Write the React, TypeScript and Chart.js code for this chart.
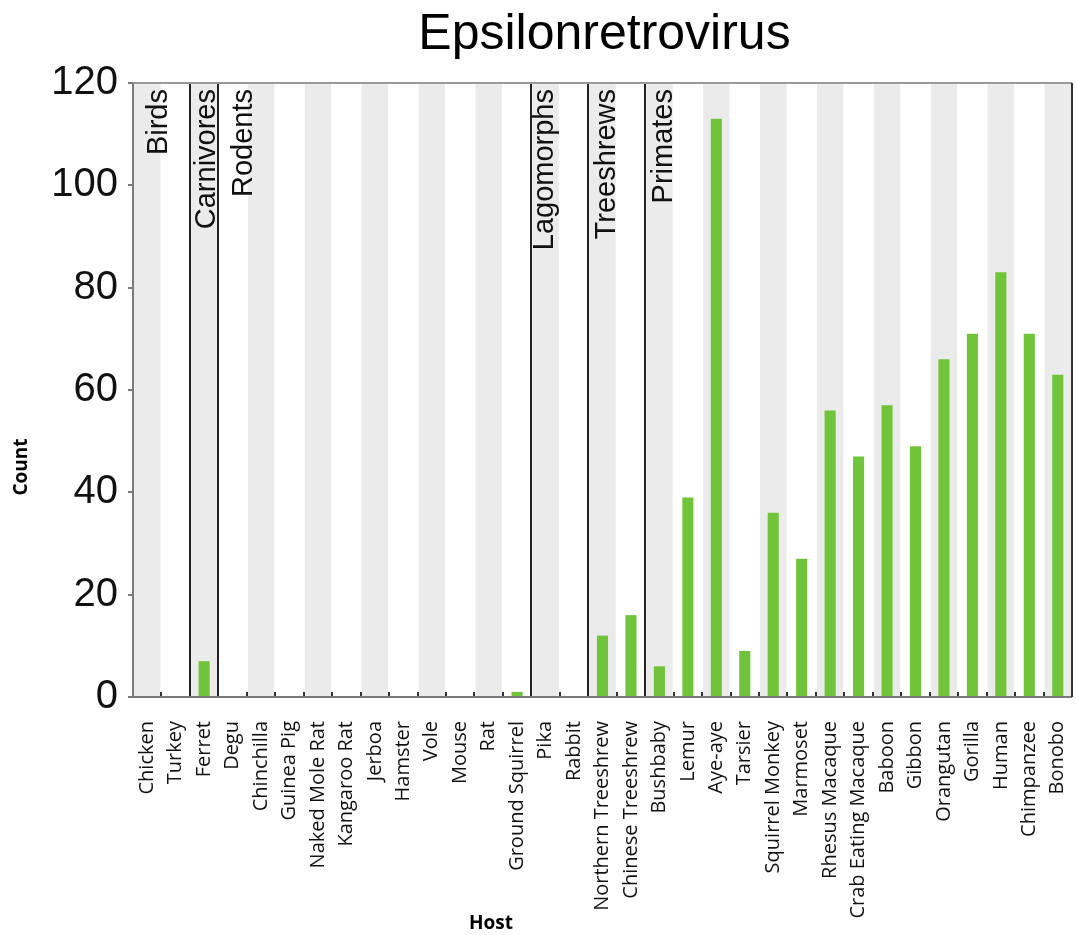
import React, { useEffect, useRef } from "react";
import { Chart, registerables } from "chart.js";

Chart.register(...registerables);

const TITLE = "Epsilonretrovirus";
const Y_LABEL = "Count";
const X_LABEL = "Host";

const hosts = [
  "Chicken", "Turkey", "Ferret", "Degu", "Chinchilla", "Guinea Pig", "Naked Mole Rat",
  "Kangaroo Rat", "Jerboa", "Hamster", "Vole", "Mouse", "Rat", "Ground Squirrel",
  "Pika", "Rabbit", "Northern Treeshrew", "Chinese Treeshrew", "Bushbaby", "Lemur",
  "Aye-aye", "Tarsier", "Squirrel Monkey", "Marmoset", "Rhesus Macaque",
  "Crab Eating Macaque", "Baboon", "Gibbon", "Orangutan", "Gorilla", "Human",
  "Chimpanzee", "Bonobo",
];

const counts = [
  0, 0, 7, 0, 0, 0, 0,
  0, 0, 0, 0, 0, 0, 1,
  0, 0, 12, 16, 6, 39,
  113, 9, 36, 27, 56,
  47, 57, 49, 66, 71, 83,
  71, 63,
];

const groupNames = ["Birds", "Carnivores", "Rodents", "Lagomorphs", "Treeshrews", "Primates"];
const groupStarts = [0, 2, 3, 14, 16, 18];

const yTicks = [0, 20, 40, 60, 80, 100, 120];

// label placement (style only)
const GROUP_LABEL_GAP = [34, 25, 34, 22, 27, 27];

const BAR_COLOR = "#70c43a";
const BAND_COLOR = "#ebebeb";

const decorPlugin = {
  id: "decor",
  beforeDatasetsDraw(chart: any) {
    const { ctx, chartArea, scales } = chart;
    const x = scales.x;
    const step = x.getPixelForValue(1) - x.getPixelForValue(0);
    ctx.save();
    ctx.fillStyle = BAND_COLOR;
    for (let i = 0; i < hosts.length; i += 2) {
      const c = x.getPixelForValue(i);
      ctx.fillRect(c - step / 2 + 1, chartArea.top, step - 2, chartArea.bottom - chartArea.top);
    }
    ctx.restore();
  },
  afterDatasetsDraw(chart: any) {
    const { ctx, chartArea, scales } = chart;
    const x = scales.x;
    const step = x.getPixelForValue(1) - x.getPixelForValue(0);
    const { left, right, top, bottom } = chartArea;
    ctx.save();
    // inward tick marks at category boundaries
    ctx.strokeStyle = "#333";
    ctx.lineWidth = 2;
    for (let i = 1; i < hosts.length; i++) {
      const bx = Math.round(x.getPixelForValue(i) - step / 2);
      ctx.beginPath();
      ctx.moveTo(bx, bottom);
      ctx.lineTo(bx, bottom - 5);
      ctx.stroke();
    }
    // group separators
    ctx.strokeStyle = "#222";
    ctx.lineWidth = 2;
    for (let g = 1; g < groupStarts.length; g++) {
      const bx = Math.round(x.getPixelForValue(groupStarts[g]) - step / 2);
      ctx.beginPath();
      ctx.moveTo(bx, top);
      ctx.lineTo(bx, bottom);
      ctx.stroke();
    }
    // frame
    ctx.strokeStyle = "#9a9a9a";
    ctx.lineWidth = 2;
    ctx.beginPath();
    ctx.moveTo(left, top);
    ctx.lineTo(right, top);
    ctx.stroke();
    ctx.strokeStyle = "#7a7a7a";
    ctx.beginPath();
    ctx.moveTo(left, top);
    ctx.lineTo(left, bottom);
    ctx.lineTo(right, bottom);
    ctx.stroke();
    ctx.strokeStyle = "#333";
    ctx.beginPath();
    ctx.moveTo(right, top);
    ctx.lineTo(right, bottom);
    ctx.stroke();
    // group labels
    ctx.fillStyle = "#111";
    ctx.font = "29px 'Liberation Sans', Arial, sans-serif";
    ctx.textAlign = "right";
    ctx.textBaseline = "alphabetic";
    for (let g = 0; g < groupNames.length; g++) {
      const bx = x.getPixelForValue(groupStarts[g]) - step / 2;
      ctx.save();
      ctx.translate(bx + GROUP_LABEL_GAP[g], top + 6);
      ctx.rotate(-Math.PI / 2);
      ctx.fillText(groupNames[g], 0, 0);
      ctx.restore();
    }
    // title
    ctx.fillStyle = "#000";
    ctx.font = "50px 'Liberation Sans', Arial, sans-serif";
    ctx.textAlign = "center";
    ctx.textBaseline = "alphabetic";
    ctx.fillText(TITLE, (left + right) / 2 + 2, 49);
    // axis titles
    ctx.font = "bold 19px 'Open Sans', sans-serif";
    ctx.save();
    ctx.translate(27, 467);
    ctx.rotate(-Math.PI / 2);
    ctx.textAlign = "center";
    ctx.fillText(Y_LABEL, 0, 0);
    ctx.restore();
    ctx.textAlign = "center";
    ctx.fillText(X_LABEL, 491, 929);
    ctx.restore();
  },
};

export default function App() {
  const ref = useRef<HTMLCanvasElement | null>(null);
  useEffect(() => {
    if (!ref.current) return;
    const chart = new Chart(ref.current, {
      type: "bar",
      data: {
        labels: hosts,
        datasets: [
          {
            data: counts,
            backgroundColor: BAR_COLOR,
            borderWidth: 0,
            barPercentage: 0.39,
            categoryPercentage: 1,
          },
        ],
      },
      options: {
        animation: false,
        responsive: false,
        maintainAspectRatio: false,
        layout: { padding: { top: 83, right: 4, left: 0, bottom: 0 } },
        plugins: {
          legend: { display: false },
          tooltip: { enabled: false },
          title: { display: false },
        },
        scales: {
          x: {
            type: "category",
            grid: { display: false },
            border: { display: false },
            ticks: {
              autoSkip: false,
              minRotation: 90,
              maxRotation: 90,
              padding: 16,
              color: "#111",
              font: { family: "'Open Sans', sans-serif", size: 20 },
            },
            afterFit(scale: any) {
              scale.height = 238;
              scale.paddingLeft = 0;
              scale.paddingRight = 0;
            },
          },
          y: {
            min: 0,
            max: 120,
            afterBuildTicks(scale: any) {
              scale.ticks = yTicks.map((v) => ({ value: v }));
            },
            grid: {
              display: true,
              drawOnChartArea: false,
              drawTicks: true,
              tickLength: 5,
              color: "#7a7a7a",
              lineWidth: 2,
            },
            border: { display: false },
            ticks: {
              padding: 10,
              color: "#111",
              font: { family: "'Liberation Sans', Arial, sans-serif", size: 40 },
            },
            afterFit(scale: any) {
              scale.width = 133;
              scale.paddingTop = 0;
              scale.paddingBottom = 0;
            },
          },
        },
      },
      plugins: [decorPlugin],
    });
    return () => chart.destroy();
  }, []);
  return (
    <div style={{ position: "fixed", left: 0, top: 0, width: 1076, height: 935, background: "#fff" }}>
      <canvas ref={ref} width={1076} height={935} />
    </div>
  );
}
